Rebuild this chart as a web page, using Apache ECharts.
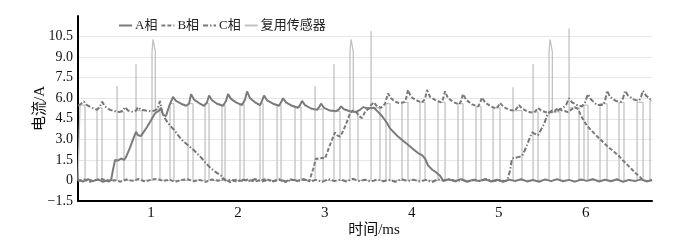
<!DOCTYPE html>
<html><head><meta charset="utf-8">
<script src="https://cdn.jsdelivr.net/npm/echarts@6/dist/echarts.min.js"></script>
<style>html,body{margin:0;padding:0;background:#fff}#c{width:691px;height:247px}</style>
</head><body><div id="c"></div>
<script>
// ---- data (time in ms, current in A) ----
const seriesNames = ['A相', 'B相', 'C相', '复用传感器'];
const xTickValues = [1, 2, 3, 4, 5, 6];
const yTickValues = [-1.5, 0, 1.5, 3, 4.5, 6, 7.5, 9, 10.5, 12];
const yTickLabels = ['−1.5', '0', '1.5', '3.0', '4.5', '6.0', '7.5', '9.0', '10.5', ''];

const phaseA = [
[0.161,0.05],[0.219,-0.08],[0.276,0.1],[0.334,-0.05],[0.391,0.08],[0.449,-0.1],[0.506,0.02],[0.541,0],
[0.564,0.8],[0.587,1.5],[0.621,1.45],[0.656,1.6],[0.690,1.5],[0.713,1.7],[0.759,2.4],[0.794,3.0],[0.828,3.55],[0.851,3.3],[0.886,3.25],[0.909,3.3],[0.955,3.9],[1.001,4.4],[1.047,4.9],[1.093,5.1],[1.116,5.3],[1.139,4.8],[1.173,4.7],[1.208,5.4],
[1.254,6.1],[1.288,5.8],[1.346,5.6],[1.403,5.45],[1.438,5.6],
[1.461,6.3],[1.495,5.9],[1.553,5.65],[1.610,5.45],[1.645,5.7],
[1.668,6.2],[1.702,5.85],[1.760,5.6],[1.829,5.45],[1.863,5.8],
[1.886,6.3],[1.921,5.95],[1.978,5.7],[2.047,5.5],[2.082,5.9],
[2.105,6.5],[2.139,6.0],[2.197,5.7],[2.254,5.5],[2.277,5.8],
[2.300,6.2],[2.335,5.85],[2.404,5.6],[2.473,5.45],[2.496,5.7],
[2.519,6.0],[2.553,5.7],[2.622,5.45],[2.691,5.3],[2.714,5.5],
[2.737,5.8],[2.772,5.5],[2.841,5.25],[2.910,5.15],[2.933,5.35],
[2.956,5.6],[2.990,5.3],[3.059,5.1],[3.128,5.05],[3.163,5.2],
[3.186,5.4],[3.220,5.2],[3.289,5.05],[3.358,5.0],[3.404,5.15],
[3.439,5.35],[3.496,5.25],[3.565,5.3],[3.611,5.0],
[3.657,4.7],[3.703,4.3],[3.749,3.8],[3.795,3.5],[3.841,3.2],[3.899,2.9],[3.956,2.6],[4.014,2.3],[4.071,2.0],[4.117,1.85],[4.152,1.6],[4.186,1.1],[4.232,0.8],[4.278,0.6],[4.324,0.35],[4.359,0],
[4.428,0.08],[4.497,-0.06],[4.566,0.1],[4.635,-0.1],[4.704,0.04],[4.773,-0.05],[4.842,0.1],[4.911,-0.08],[4.980,0.05],[5.049,-0.1],[5.118,0.06],[5.187,-0.04],[5.256,0.09],[5.325,-0.07],[5.394,0.03],[5.463,-0.1],[5.532,0.08],[5.601,-0.05],[5.670,0.1],[5.739,-0.06],[5.808,0.04],[5.877,-0.09],[5.946,0.07],[6.015,-0.03],[6.084,0.1],[6.153,-0.08],[6.222,0.05],[6.291,-0.06],[6.360,0.09],[6.429,-0.1],[6.498,0.04],[6.567,-0.05],[6.636,0.08],[6.705,-0.07],[6.762,0.02]
];

const phaseB = [
[0.16,-0.05],[0.23,0.08],[0.30,-0.1],[0.37,0.04],[0.44,0.1],[0.51,-0.07],[0.58,0.02],[0.65,-0.09],[0.72,0.07],[0.79,-0.03],[0.86,0.1],[0.93,-0.08],[1.00,0.05],[1.07,0.12],[1.14,-0.04],[1.21,0.06],[1.28,-0.1],[1.35,0.03],[1.42,0.09],[1.49,-0.06],[1.56,0.04],[1.63,-0.1],[1.70,0.07],[1.77,-0.02],[1.84,0.1],[1.91,-0.12],[1.98,0.05],[2.05,-0.05],[2.12,0.08],[2.19,-0.09],[2.26,0.03],[2.33,0.1],[2.40,-0.06],[2.47,0.05],[2.54,-0.1],[2.61,0.07],[2.68,-0.04],[2.75,0.09],[2.82,-0.05],[2.841,0],
[2.864,0.8],[2.898,1.6],[2.933,1.55],[2.967,1.65],[3.002,1.6],[3.036,2.2],[3.071,2.8],[3.117,3.5],[3.140,3.3],[3.174,3.2],[3.209,3.6],[3.243,4.1],[3.289,4.9],[3.324,5.1],[3.358,5.0],[3.393,4.7],[3.427,4.55],[3.462,5.0],[3.496,5.2],[3.531,5.5],[3.565,5.7],[3.600,5.4],[3.646,5.3],[3.692,5.6],[3.726,6.35],
[3.761,6.0],[3.807,5.75],[3.853,5.65],[3.910,5.7],[3.933,5.95],[3.956,6.6],[3.991,6.1],[4.048,5.85],[4.117,5.7],[4.152,5.95],[4.175,6.6],[4.209,6.1],[4.278,5.85],[4.336,5.7],[4.359,5.95],[4.382,6.5],[4.416,6.0],[4.485,5.7],[4.543,5.55],[4.566,5.8],[4.589,6.3],[4.623,5.9],[4.692,5.55],[4.761,5.4],[4.784,5.65],[4.807,6.05],[4.842,5.7],[4.911,5.4],[4.968,5.25],[4.991,5.4],[5.014,5.65],[5.049,5.4],[5.118,5.15],[5.187,5.1],[5.210,5.3],[5.233,5.5],[5.267,5.25],[5.336,5.0],[5.405,4.95],[5.428,5.1],[5.451,5.3],[5.486,5.1],[5.555,4.95],[5.624,5.0],[5.658,5.15],[5.681,5.3],[5.727,5.1],[5.796,5.0],[5.842,5.2],[5.877,5.35],[5.911,5.2],
[5.957,4.6],[6.003,4.1],[6.049,3.75],[6.095,3.45],[6.141,3.15],[6.199,2.8],[6.256,2.45],[6.314,2.15],[6.371,1.85],[6.429,1.45],[6.486,1.1],[6.532,0.8],[6.578,0.5],[6.624,0.25],[6.659,0],[6.705,-0.06],[6.762,0.05]
];

const phaseC = [
[0.161,5.45],[0.196,5.6],[0.230,5.75],[0.265,5.5],[0.322,5.3],[0.380,5.15],[0.414,5.4],[0.437,5.75],[0.472,5.4],[0.529,5.15],[0.587,5.05],[0.644,5.0],[0.679,5.1],[0.702,5.35],[0.736,5.1],[0.794,5.0],[0.828,5.1],[0.851,5.35],[0.886,5.15],[0.943,5.1],[1.001,5.05],[1.047,5.1],[1.081,5.3],[1.104,5.8],[1.127,5.0],
[1.173,4.4],[1.219,4.0],[1.265,3.7],[1.311,3.3],[1.357,2.95],[1.403,2.7],[1.449,2.45],[1.495,2.2],[1.541,1.9],[1.587,1.6],[1.633,1.25],[1.679,0.95],[1.725,0.7],[1.771,0.5],[1.817,0.3],[1.852,0],
[1.92,0.07],[1.99,-0.1],[2.06,0.05],[2.13,-0.04],[2.20,0.1],[2.27,-0.08],[2.34,0.03],[2.41,-0.06],[2.48,0.09],[2.55,-0.1],[2.62,0.06],[2.69,-0.03],[2.76,0.08],[2.83,-0.07],[2.90,0.04],[2.97,-0.1],[3.04,0.1],[3.11,-0.05],[3.18,0.06],[3.25,-0.08],[3.32,0.12],[3.39,-0.04],[3.46,0.05],[3.53,-0.09],[3.60,0.07],[3.67,-0.06],[3.74,0.03],[3.81,-0.1],[3.88,0.09],[3.95,-0.05],[4.02,0.06],[4.09,-0.08],[4.16,0.04],[4.23,-0.12],[4.30,0.08],[4.37,-0.03],[4.44,0.1],[4.51,-0.07],[4.58,0.05],[4.65,-0.09],[4.72,0.06],[4.79,-0.04],[4.86,0.1],[4.93,-0.06],[5.00,0.03],[5.07,-0.05],[5.095,0],
[5.129,0.7],[5.152,1.6],[5.187,1.65],[5.221,1.7],[5.256,1.75],[5.279,1.9],[5.325,2.6],[5.382,3.5],[5.417,3.4],[5.451,3.3],[5.474,3.4],[5.520,4.1],[5.566,4.9],[5.612,5.1],[5.658,5.0],[5.704,5.2],[5.739,5.3],[5.773,5.5],[5.808,6.0],[5.842,5.7],[5.900,5.5],[5.957,5.4],[5.992,5.7],[6.026,6.3],[6.061,5.9],[6.130,5.5],[6.199,5.5],[6.222,5.8],[6.245,6.55],[6.279,6.1],[6.348,5.8],[6.406,5.75],[6.429,6.0],[6.452,6.55],[6.486,6.2],[6.555,5.9],[6.613,5.8],[6.636,6.1],[6.659,6.55],[6.693,6.2],[6.762,5.8]
];

const muxSensor = [
[0.161,0],
[0.184,0],[0.184,5.5],[0.242,5.5],[0.242,0],
[0.380,0],[0.380,5.3],[0.437,5.3],[0.437,0],
[0.610,0],[0.610,6.9],[0.611,5.0],[0.690,5.0],[0.690,0],
[0.828,0],[0.828,8.5],[0.829,5.1],[0.897,5.1],[0.897,0],
[1.012,0],[1.012,9.4],[1.024,10.3],[1.041,10.3],[1.050,9.4],[1.050,5.2],[1.104,5.2],[1.104,0],
[1.219,0],[1.219,5.6],[1.265,5.6],[1.265,0],
[1.426,0],[1.426,5.6],[1.484,5.6],[1.484,0],
[1.622,0],[1.622,5.6],[1.668,5.6],[1.668,0],
[1.817,0],[1.817,5.5],[1.852,5.5],[1.852,0],
[2.024,0],[2.024,5.6],[2.070,5.6],[2.070,0],
[2.254,0],[2.254,5.6],[2.289,5.6],[2.289,0],
[2.450,0],[2.450,5.5],[2.496,5.5],[2.496,0],
[2.657,0],[2.657,5.35],[2.726,5.35],[2.726,0],
[2.887,0],[2.887,6.9],[2.888,5.2],[2.979,5.2],[2.979,0],
[3.105,0],[3.105,8.5],[3.106,5.05],[3.174,5.05],[3.174,0],
[3.289,0],[3.289,9.4],[3.301,10.3],[3.318,10.3],[3.327,9.4],[3.327,5.0],[3.381,5.0],[3.381,0],
[3.531,0],[3.531,10.9],[3.532,5.3],[3.634,5.3],[3.634,0],
[3.703,0],[3.703,5.6],[3.749,5.6],[3.749,0],
[3.887,0],[3.887,5.7],[3.956,5.7],[3.956,0],
[4.094,0],[4.094,5.7],[4.152,5.7],[4.152,0],
[4.301,0],[4.301,5.7],[4.382,5.7],[4.382,0],
[4.531,0],[4.531,5.6],[4.589,5.6],[4.589,0],
[4.738,0],[4.738,5.4],[4.796,5.4],[4.796,0],
[4.934,0],[4.934,5.3],[5.014,5.3],[5.014,0],
[5.164,0],[5.164,6.8],[5.165,5.1],[5.267,5.1],[5.267,0],
[5.394,0],[5.394,8.5],[5.395,5.0],[5.451,5.0],[5.451,0],
[5.578,0],[5.578,9.4],[5.590,10.3],[5.607,10.3],[5.616,9.4],[5.616,5.0],[5.704,5.0],[5.704,0],
[5.808,0],[5.808,11.1],[5.809,5.3],[5.923,5.3],[5.923,0],
[5.980,0],[5.980,5.5],[6.026,5.5],[6.026,0],
[6.164,0],[6.164,5.6],[6.245,5.6],[6.245,0],
[6.383,0],[6.383,5.7],[6.440,5.7],[6.440,0],
[6.590,0],[6.590,5.7],[6.659,5.7],[6.659,0],
[6.739,0],[6.739,5.8],[6.762,5.8]
];

// ---- chart ----
const FONT = '"Liberation Serif", "Times New Roman", "Noto Sans CJK SC", serif';
const chart = echarts.init(document.getElementById('c'), null, {renderer: 'canvas'});
const gridColors = yTickValues.map((v, i) => i === yTickValues.length - 1 ? 'rgba(0,0,0,0)' : '#e6e6e6');

function yLabel(v) {
  for (let i = 0; i < yTickValues.length; i++) {
    if (Math.abs(v - yTickValues[i]) < 1e-6) return yTickLabels[i];
  }
  return '';
}

chart.setOption({
  animation: false,
  backgroundColor: '#ffffff',
  grid: {left: 78, right: 39, top: 16, bottom: 46},
  legend: {
    left: 113, top: 14,
    itemWidth: 13, itemHeight: 8, itemGap: 3,
    data: seriesNames,
    itemStyle: {opacity: 0, borderWidth: 0},
    textStyle: {fontFamily: FONT, fontSize: 13, color: '#222', padding: [0, 0, 0, -2]}
  },
  xAxis: {
    type: 'value',
    min: 0.161, max: 6.762,
    name: '时间/ms',
    nameLocation: 'middle',
    nameGap: 22,
    nameMoveOverlap: false,
    nameTextStyle: {fontFamily: FONT, fontSize: 15, color: '#111', padding: [0, 0, 0, 18]},
    axisLine: {show: true, onZero: false, lineStyle: {color: '#000', width: 2}},
    axisTick: {show: false},
    splitLine: {show: false},
    axisLabel: {customValues: xTickValues, fontFamily: FONT, fontSize: 15, color: '#111', margin: 5}
  },
  yAxis: {
    type: 'value',
    min: -1.5, max: 12, interval: 1.5,
    name: '电流/A',
    nameLocation: 'middle',
    nameGap: 30,
    nameMoveOverlap: false,
    nameRotate: 90,
    nameTextStyle: {fontFamily: FONT, fontSize: 15, color: '#111'},
    axisLine: {show: true, lineStyle: {color: '#000', width: 2}},
    axisTick: {show: false},
    splitLine: {show: true, lineStyle: {color: gridColors, width: 1}},
    axisLabel: {formatter: yLabel, fontFamily: FONT, fontSize: 14, color: '#111', margin: 5, showMaxLabel: false}
  },
  series: [
    {name: '复用传感器', type: 'line', data: muxSensor, symbol: 'none', z: 2,
     lineStyle: {color: '#c2c2c2', width: 1.3}, itemStyle: {color: '#c2c2c2'}},
    {name: 'A相', type: 'line', data: phaseA, symbol: 'none', z: 3,
     lineStyle: {color: '#7b7b7b', width: 2, type: 'solid'}, itemStyle: {color: '#7b7b7b'}},
    {name: 'B相', type: 'line', data: phaseB, symbol: 'none', z: 3,
     lineStyle: {color: '#7b7b7b', width: 2, type: [4, 2]}, itemStyle: {color: '#7b7b7b'}},
    {name: 'C相', type: 'line', data: phaseC, symbol: 'none', z: 3,
     lineStyle: {color: '#777777', width: 2, type: [5, 2, 1.5, 2]}, itemStyle: {color: '#777777'}}
  ]
});
</script>
</body></html>
